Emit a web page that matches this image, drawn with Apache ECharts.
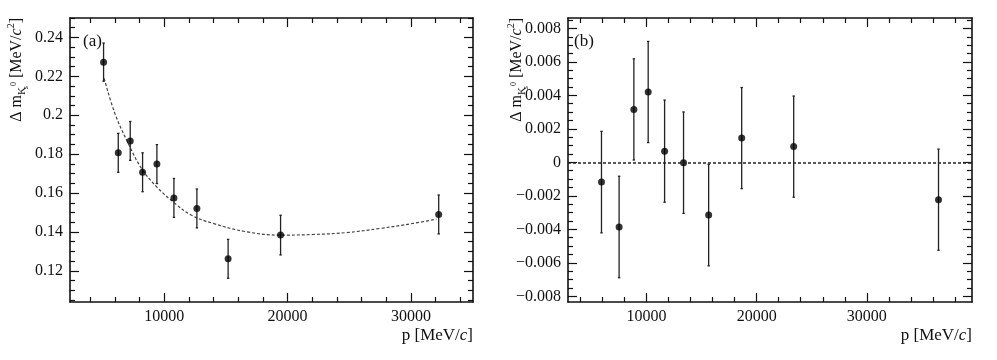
<!DOCTYPE html>
<html>
<head>
<meta charset="utf-8">
<script src="https://cdn.jsdelivr.net/npm/echarts@6/dist/echarts.min.js"></script>
<style>html,body{margin:0;padding:0;background:#fff;}#c{width:997px;height:360px;}</style>
</head>
<body>
<div id="c"></div>
<script>
// ---- Panel (a) data ----
const leftP   = [5090, 6280, 7250, 8250, 9410, 10790, 12650, 15180, 19430, 32240];
const leftDm  = [0.2273, 0.1807, 0.1868, 0.1707, 0.1749, 0.1575, 0.1521, 0.1262, 0.1384, 0.1490];
const leftErr = [0.0098, 0.0100, 0.0100, 0.0100, 0.0100, 0.0100, 0.0100, 0.0100, 0.0102, 0.0100];
// fit curve
const fitP  = [5140, 6010, 7090, 8170, 9390, 10870, 12220, 13970, 16670, 19370, 22070, 24770, 27470, 30170, 32060];
const fitDm = [0.2190, 0.2009, 0.1855, 0.1726, 0.1632, 0.1547, 0.1486, 0.1444, 0.1401, 0.1384, 0.1387, 0.1397, 0.1418, 0.1444, 0.1466];

// ---- Panel (b) data ----
const rightP   = [5910, 7510, 8850, 10150, 11640, 13360, 15640, 18640, 23360, 36510];
const rightDm  = [-0.00118, -0.00386, 0.00316, 0.00420, 0.00067, -0.00002, -0.00315, 0.00145, 0.00094, -0.00223];
const rightErr = [0.00303, 0.00303, 0.00302, 0.00302, 0.00305, 0.00303, 0.00303, 0.00302, 0.00302, 0.00302];

// ---- tick values ----
const leftXTicks  = [10000, 20000, 30000];
const leftXMinor  = [4000, 6000, 8000, 12000, 14000, 16000, 18000, 22000, 24000, 26000, 28000, 32000, 34000];
const leftYTicks  = [0.12, 0.14, 0.16, 0.18, 0.20, 0.22, 0.24];
const leftYMinor  = [0.105, 0.110, 0.115, 0.125, 0.130, 0.135, 0.145, 0.150, 0.155, 0.165, 0.170, 0.175, 0.185, 0.190, 0.195, 0.205, 0.210, 0.215, 0.225, 0.230, 0.235, 0.245, 0.250];
const rightXTicks = [10000, 20000, 30000];
const rightXMinor = [4000, 6000, 8000, 12000, 14000, 16000, 18000, 22000, 24000, 26000, 28000, 32000, 34000, 36000, 38000];
const rightYTicks = [-0.008, -0.006, -0.004, -0.002, 0, 0.002, 0.004, 0.006, 0.008];
const rightYMinor = [-0.0075, -0.0070, -0.0065, -0.0055, -0.0050, -0.0045, -0.0035, -0.0030, -0.0025, -0.0015, -0.0010, -0.0005, 0.0005, 0.0010, 0.0015, 0.0025, 0.0030, 0.0035, 0.0045, 0.0050, 0.0055, 0.0065, 0.0070, 0.0075, 0.0085];

const FONT = '"Liberation Serif", "DejaVu Serif", serif';
const AX = '#111';

const fmtX = v => String(Math.round(+v));
const fmtLeft = v => String(+(+v).toFixed(2));
const fmtRight = v => {
  const r = +(+v).toFixed(4);
  if (r === 0) return '0';
  return (r < 0 ? '\u2212' : '') + Math.abs(r).toFixed(3);
};

function xAxes(grid, min, max, major, minor) {
  const base = { type: 'value', gridIndex: grid, min: min, max: max, splitLine: { show: false } };
  return [
    Object.assign({}, base, { position: 'bottom',
      axisLine: { show: true, onZero: false, lineStyle: { color: AX, width: 1.6 } },
      axisTick: { show: true, inside: true, length: 9, customValues: major, lineStyle: { color: AX, width: 1.2 } },
      axisLabel: { show: true, customValues: major, margin: 7, color: '#111', fontFamily: FONT, fontSize: 16, formatter: fmtX } }),
    Object.assign({}, base, { position: 'bottom', axisLine: { show: false, onZero: false },
      axisTick: { show: true, inside: true, length: 5, customValues: minor, lineStyle: { color: AX, width: 1.2 } },
      axisLabel: { show: false } }),
    Object.assign({}, base, { position: 'top',
      axisLine: { show: true, onZero: false, lineStyle: { color: AX, width: 1.6 } },
      axisTick: { show: true, inside: true, length: 9, customValues: major, lineStyle: { color: AX, width: 1.2 } },
      axisLabel: { show: false } }),
    Object.assign({}, base, { position: 'top', axisLine: { show: false, onZero: false },
      axisTick: { show: true, inside: true, length: 5, customValues: minor, lineStyle: { color: AX, width: 1.2 } },
      axisLabel: { show: false } })
  ];
}
function yAxes(grid, min, max, major, minor, fmt) {
  const base = { type: 'value', gridIndex: grid, min: min, max: max, splitLine: { show: false } };
  return [
    Object.assign({}, base, { position: 'left',
      axisLine: { show: true, onZero: false, lineStyle: { color: AX, width: 1.6 } },
      axisTick: { show: true, inside: true, length: 9, customValues: major, lineStyle: { color: AX, width: 1.2 } },
      axisLabel: { show: true, customValues: major, margin: 7, color: '#111', fontFamily: FONT, fontSize: 16, formatter: fmt } }),
    Object.assign({}, base, { position: 'left', axisLine: { show: false, onZero: false },
      axisTick: { show: true, inside: true, length: 5, customValues: minor, lineStyle: { color: AX, width: 1.2 } },
      axisLabel: { show: false } }),
    Object.assign({}, base, { position: 'right',
      axisLine: { show: true, onZero: false, lineStyle: { color: AX, width: 1.6 } },
      axisTick: { show: true, inside: true, length: 9, customValues: major, lineStyle: { color: AX, width: 1.2 } },
      axisLabel: { show: false } }),
    Object.assign({}, base, { position: 'right', axisLine: { show: false, onZero: false },
      axisTick: { show: true, inside: true, length: 5, customValues: minor, lineStyle: { color: AX, width: 1.2 } },
      axisLabel: { show: false } })
  ];
}

function errSeries(xi, yi, P, D, E) {
  return {
    type: 'custom', xAxisIndex: xi, yAxisIndex: yi, z: 3,
    data: P.map((p, i) => [p, D[i], E[i]]),
    renderItem: function (params, api) {
      const x = api.value(0), y = api.value(1), e = api.value(2);
      const top = api.coord([x, y + e]);
      const bot = api.coord([x, y - e]);
      const st = { stroke: '#222', lineWidth: 1.3 };
      return { type: 'group', children: [
        { type: 'line', shape: { x1: top[0], y1: top[1], x2: bot[0], y2: bot[1] }, style: st },
        { type: 'line', shape: { x1: top[0] - 1.2, y1: top[1], x2: top[0] + 1.2, y2: top[1] }, style: st },
        { type: 'line', shape: { x1: bot[0] - 1.2, y1: bot[1], x2: bot[0] + 1.2, y2: bot[1] }, style: st }
      ] };
    }
  };
}

const yTitleRich = {
  b:   { fontFamily: FONT, fontSize: 16, lineHeight: 26, verticalAlign: 'middle', fill: '#111' },
  sub: { fontFamily: FONT, fontSize: 11, lineHeight: 26, verticalAlign: 'bottom', padding: [0, 0, 2, 0], fill: '#111' },
  ss:  { fontFamily: FONT, fontSize: 8, lineHeight: 26, verticalAlign: 'bottom', width: 1, fill: '#111' },
  sup: { fontFamily: FONT, fontSize: 8, lineHeight: 26, verticalAlign: 'middle', padding: [0, 0, 6, 0], fill: '#111' },
  it:  { fontFamily: FONT, fontSize: 16, lineHeight: 26, fontStyle: 'italic', verticalAlign: 'middle', fill: '#111' },
  sup2:{ fontFamily: FONT, fontSize: 10, lineHeight: 26, verticalAlign: 'top', padding: [2, 0, 0, 0], fill: '#111' }
};
const yTitle = '{b|\u0394 m}{sub|K}{ss|s}{sup|0}{b| [MeV/}{it|c}{sup2|2}{b|]}';

function yTitleGraphic(x) {
  return { type: 'text', x: x, y: 18, rotation: Math.PI / 2, z: 10,
    style: { text: yTitle, rich: yTitleRich, align: 'right', verticalAlign: 'middle', fill: '#111', font: '16px ' + FONT } };
}
function xTitleGraphic(x) {
  return { type: 'text', x: x, y: 336, z: 10,
    style: { text: '{b|p [MeV/}{it|c}{b|]}', align: 'right', verticalAlign: 'middle', fill: '#111', font: '17px ' + FONT,
      rich: { b: { fontFamily: FONT, fontSize: 17, fill: '#111' }, it: { fontFamily: FONT, fontSize: 17, fontStyle: 'italic', fill: '#111' } } } };
}
function tagGraphic(x, t) {
  return { type: 'text', x: x, y: 42, z: 10,
    style: { text: t, align: 'left', verticalAlign: 'middle', fill: '#111', font: '17px ' + FONT } };
}

const option = {
  animation: false,
  backgroundColor: '#fff',
  grid: [
    { left: 70, top: 18, width: 403, height: 284 },
    { left: 568, top: 18, width: 404, height: 284 }
  ],
  xAxis: [].concat(
    xAxes(0, 2370, 35020, leftXTicks, leftXMinor),
    xAxes(1, 2870, 39550, rightXTicks, rightXMinor)
  ),
  yAxis: [].concat(
    yAxes(0, 0.1040, 0.2500, leftYTicks, leftYMinor, fmtLeft),
    yAxes(1, -0.00834, 0.00862, rightYTicks, rightYMinor, fmtRight)
  ),
  series: [
    { type: 'line', xAxisIndex: 0, yAxisIndex: 0, data: fitP.map((p, i) => [p, fitDm[i]]),
      smooth: 0.4, showSymbol: false, symbol: 'none', z: 2,
      lineStyle: { color: '#444', width: 1.2, type: [3, 2] } },
    errSeries(0, 0, leftP, leftDm, leftErr),
    { type: 'scatter', xAxisIndex: 0, yAxisIndex: 0, data: leftP.map((p, i) => [p, leftDm[i]]),
      symbol: 'circle', symbolSize: 7, itemStyle: { color: '#000' }, z: 4 },
    errSeries(4, 4, rightP, rightDm, rightErr),
    { type: 'scatter', xAxisIndex: 4, yAxisIndex: 4, data: rightP.map((p, i) => [p, rightDm[i]]),
      symbol: 'circle', symbolSize: 7, itemStyle: { color: '#000' }, z: 4,
      markLine: { silent: true, symbol: 'none', label: { show: false },
        lineStyle: { color: '#222', width: 1.6, type: [3, 2] },
        data: [{ yAxis: 0 }] } }
  ],
  graphic: [
    yTitleGraphic(17), yTitleGraphic(517),
    xTitleGraphic(473), xTitleGraphic(972),
    tagGraphic(83, '(a)'), tagGraphic(574, '(b)')
  ]
};

const chart = echarts.init(document.getElementById('c'), null, { renderer: 'canvas' });
chart.setOption(option);
</script>
</body>
</html>
